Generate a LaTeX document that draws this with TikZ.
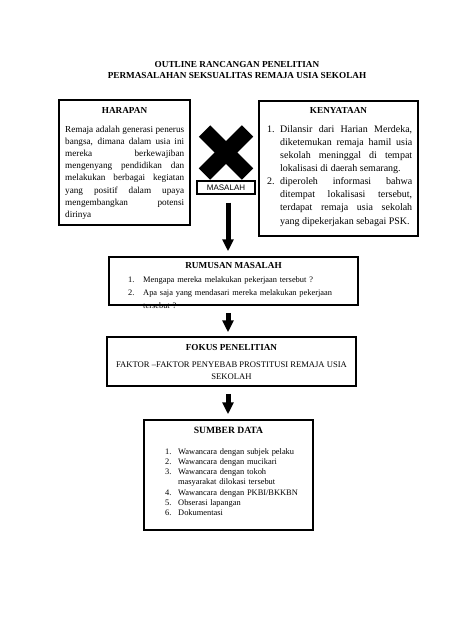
\documentclass[tikz,border=0pt]{standalone}
\usepackage{fontspec}
\setmainfont{Liberation Serif}
\newfontfamily\lsans{Liberation Sans}
\usetikzlibrary{arrows.meta,calc}
\newcommand{\kitem}[2]{\par\noindent\hangindent=#1\hangafter=1\makebox[#1][l]{#2}}
\tikzset{
  bx/.style={draw, line width=1.5pt, inner sep=0pt},
  ttl/.style={font=\bfseries\fontsize{9.2}{11.5}\selectfont, align=center, inner sep=0pt},
  hd/.style={font=\bfseries\fontsize{9.2}{10}\selectfont, inner sep=0pt},
  body/.style={font=\fontsize{8.4}{12.1}\selectfont, inner sep=0pt, anchor=north west},
  arr/.style={line width=5pt, -{Triangle[width=11pt,length=12pt]}},
}
\begin{document}
\begin{tikzpicture}[x=1pt,y=-1pt]
\useasboundingbox (0,0) rectangle (474,632);
\fill[white] (0,0) rectangle (474,632);
% title
\node[ttl] (title) at (237,70) {OUTLINE RANCANGAN PENELITIAN\\PERMASALAHAN SEKSUALITAS REMAJA USIA SEKOLAH};
% HARAPAN
\node[bx, minimum width=131pt, minimum height=125pt] (harbox) at (124.5,162.5) {};
\node[hd] (harhd) at (124.5,110.5) {HARAPAN};
\node[body, text width=119pt, align=justify, font=\fontsize{9.2}{12.1}\selectfont] (hartxt) at (65,126) {\tolerance=10000\hyphenpenalty=10000
Remaja adalah generasi penerus\linebreak
bangsa, dimana dalam usia ini\linebreak
mereka berkewajiban\linebreak
mengenyang pendidikan dan\linebreak
melakukan berbagai kegiatan\linebreak
yang positif dalam upaya\linebreak
mengembangkan potensi\linebreak
dirinya\par};
% KENYATAAN
\node[bx, minimum width=159pt, minimum height=135pt] (kenbox) at (338.5,168.5) {};
\node[hd] (kenhd) at (338.5,110.5) {KENYATAAN};
\node[body, text width=145pt, align=justify, font=\fontsize{10}{13.1}\selectfont] (kentxt) at (267,119) {\tolerance=10000\hyphenpenalty=10000
\kitem{13pt}{1.}Dilansir dari Harian Merdeka,\linebreak
diketemukan remaja hamil usia\linebreak
sekolah meninggal di tempat\linebreak
lokalisasi di daerah semarang.
\kitem{13pt}{2.}diperoleh informasi bahwa\linebreak
ditempat lokalisasi tersebut,\linebreak
terdapat remaja usia sekolah\linebreak
yang dipekerjakan sebagai PSK.\par};
% X and MASALAH
\coordinate (xc) at (226,152.5);
\draw[line width=16pt] ($(xc)+(-21.5,-21.5)$) -- ($(xc)+(21.5,21.5)$);
\draw[line width=16pt] ($(xc)+(21.5,-21.5)$) -- ($(xc)+(-21.5,21.5)$);
\node[draw, line width=1.1pt, minimum width=58pt, minimum height=13pt, inner sep=0pt, font=\lsans\fontsize{8}{9}\selectfont] (masalah) at (226,187.5) {MASALAH};
% RUMUSAN
\node[bx, minimum width=249pt, minimum height=48pt] (rumbox) at (233.5,281) {};
\node[hd] (rumhd) at (233.5,265.5) {RUMUSAN MASALAH};
\node[body, text width=215pt, align=left, font=\fontsize{8.4}{13}\selectfont] (rumtxt) at (128,269) {
\kitem{15pt}{1.}Mengapa mereka melakukan pekerjaan tersebut ?
\kitem{15pt}{2.}Apa saja yang mendasari mereka melakukan pekerjaan\newline tersebut ?\par};
% FOKUS
\node[bx, minimum width=249pt, minimum height=49pt] (fokbox) at (231.5,361.5) {};
\node[hd] (fokhd) at (231.5,347.5) {FOKUS PENELITIAN};
\node[font=\fontsize{8.6}{12}\selectfont, align=center, inner sep=0pt] (foktxt) at (231.5,371) {FAKTOR --FAKTOR PENYEBAB PROSTITUSI REMAJA USIA\\SEKOLAH};
% SUMBER
\node[bx, minimum width=169pt, minimum height=110pt] (sumbox) at (228.5,475) {};
\node[hd, font=\bfseries\fontsize{9.6}{10}\selectfont] (sumhd) at (228.5,430) {SUMBER DATA};
\node[body, text width=140pt, align=left, font=\fontsize{8.4}{10.3}\selectfont] (sumtxt) at (165,443.5) {
\kitem{13pt}{1.}Wawancara dengan subjek pelaku
\kitem{13pt}{2.}Wawancara dengan mucikari
\kitem{13pt}{3.}Wawancara dengan tokoh\newline masyarakat dilokasi tersebut
\kitem{13pt}{4.}Wawancara dengan PKBI/BKKBN
\kitem{13pt}{5.}Obserasi lapangan
\kitem{13pt}{6.}Dokumentasi\par};
% arrows
\coordinate (ax) at (228,0);
\draw[arr, shorten <=8pt, shorten >=5pt] (masalah.south -| ax) -- (rumbox.north -| ax);
\draw[arr, shorten <=7pt, shorten >=4pt] (rumbox.south -| ax) -- (fokbox.north -| ax);
\draw[arr, shorten <=7pt, shorten >=5pt] (fokbox.south -| ax) -- (sumbox.north -| ax);
\end{tikzpicture}
\end{document}
